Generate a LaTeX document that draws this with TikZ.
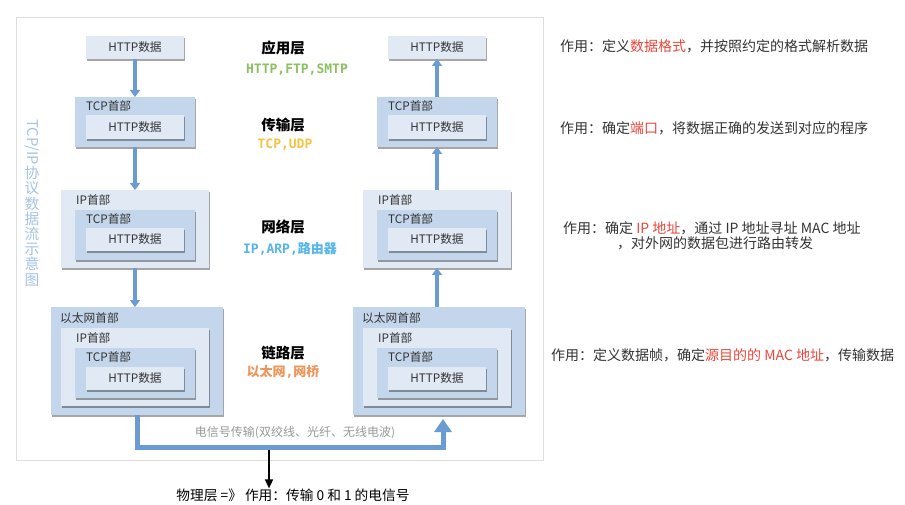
\documentclass[tikz,border=0pt]{standalone}
\usepackage{fontspec}
\setmainfont{Noto Sans CJK SC}
\newfontfamily\monof{DejaVu Sans Mono}
\usetikzlibrary{arrows.meta,shadows,calc}
\definecolor{boxdark}{HTML}{C4D6EB}
\definecolor{boxlight}{HTML}{E0E9F4}
\definecolor{txtc}{HTML}{333333}
\definecolor{arrowc}{HTML}{6A9BD3}
\definecolor{framec}{HTML}{DDDDDD}
\definecolor{vtc}{HTML}{A5C4E6}
\definecolor{pgreen}{HTML}{8CC063}
\definecolor{pyellow}{HTML}{F5C443}
\definecolor{pblue}{HTML}{55B5EC}
\definecolor{porange}{HTML}{F0955A}
\definecolor{hlred}{HTML}{E8463A}
\definecolor{desctext}{HTML}{333333}
\definecolor{graytext}{HTML}{999999}
\newcommand\hl[1]{\textcolor{hlred}{#1}}
\newcommand\mybox[7]{\node[pbox,fill=#6,minimum width={(#4)*1pt-(#2)*1pt},minimum height={(#5)*1pt-(#3)*1pt}] (#1) at ({((#2)+(#4))/2},{((#3)+(#5))/2}) {#7};}
\newcommand\hdr[4]{\node[hdrs] (#1) at (#2,#3) {#4};}
\newcommand\stackcol[2]{%
  \mybox{h1#1}{86+#2}{36}{184+#2}{59}{boxlight}{HTTP数据}
  \mybox{t2#1}{75+#2}{97}{195+#2}{147}{boxdark}{}
  \hdr{t2#1l}{86+#2}{106}{TCP首部}
  \mybox{h2#1}{86+#2}{115}{184+#2}{139}{boxlight}{HTTP数据}
  \mybox{i3#1}{61+#2}{190}{209+#2}{268}{boxlight}{}
  \hdr{i3#1l}{76+#2}{200}{IP首部}
  \mybox{t3#1}{75+#2}{210}{195+#2}{260}{boxdark}{}
  \hdr{t3#1l}{86+#2}{219}{TCP首部}
  \mybox{h3#1}{86+#2}{228}{184+#2}{251}{boxlight}{HTTP数据}
  \mybox{e4#1}{51+#2}{307}{223+#2}{415}{boxdark}{}
  \hdr{e4#1l}{60+#2}{318}{以太网首部}
  \mybox{i4#1}{61+#2}{328}{209+#2}{406}{boxlight}{}
  \hdr{i4#1l}{76+#2}{338}{IP首部}
  \mybox{t4#1}{75+#2}{348}{195+#2}{398}{boxdark}{}
  \hdr{t4#1l}{86+#2}{357}{TCP首部}
  \mybox{h4#1}{86+#2}{367}{184+#2}{390}{boxlight}{HTTP数据}
}
\begin{document}
\begin{tikzpicture}[x=1pt,y=-1pt,
  pbox/.style={inner sep=0pt,outer sep=0pt,draw=none,
    drop shadow={shadow xshift=1.2pt,shadow yshift=-1.6pt,fill=black,opacity=0.35},
    font=\fontsize{11.7}{14}\selectfont,text=txtc},
  hdrs/.style={anchor=west,inner sep=0pt,font=\fontsize{11.7}{14}\selectfont,text=txtc},
  layer/.style={inner sep=0pt,font=\fontsize{14.5}{17}\selectfont\bfseries,text=black},
  proto/.style={inner sep=0pt,font=\fontsize{13}{15}\selectfont\bfseries},
  desc/.style={anchor=west,inner sep=0pt,font=\fontsize{14}{16}\selectfont,text=desctext},
  flow/.style={draw=arrowc,line width=4pt,-{Triangle[width=10pt,length=7pt]}},
  bus/.style={draw=arrowc,line width=5pt,-{Triangle[width=17pt,length=13pt]},shorten >=4pt},
  vtext/.style={inner sep=0pt,text=vtc,font=\fontsize{14.8}{15.2}\selectfont},
  frame/.style={draw=framec,line width=1pt,inner sep=0pt,fill=white}]
\useasboundingbox (0,0) rectangle (905,505);
\node[frame,minimum width=527pt,minimum height=442pt] (fr) at (279.5,239) {};

% vertical title
\node[vtext,rotate=-90] (vt1) at (32,142) {TCP/IP};
\node[vtext,anchor=north,align=center] (vt2) at (32,166) {协\\议\\数\\据\\流\\示\\意\\图};

\stackcol{L}{0}
\stackcol{R}{302}

% arrows between layers
\draw[flow] (h1L.south) -- (t2L.north);
\draw[flow] (t2L.south) -- (i3L.north);
\draw[flow] (i3L.south) -- (i3L.south |- e4L.north);
\draw[flow] (t2R.north) -- (h1R.south);
\draw[flow] (i3R.north) -- (t2R.south);
\draw[flow] (i3R.south |- e4R.north) -- (i3R.south);

% physical transmission
\draw[bus] (e4L.south) -- ++(0,32) -| ([xshift=4pt]e4R.south);
\node[inner sep=0pt,text=graytext,font=\fontsize{12}{14}\selectfont] (wire) at (295,433) {电信号传输(双绞线、光纤、无线电波)};

% layer names
\node[layer] (l1) at (283,48) {应用层};
\node[proto,text=pgreen] (p1) at (297,70) {\monof HTTP,FTP,SMTP};
\node[layer] (l2) at (283,125) {传输层};
\node[proto,text=pyellow] (p2) at (285,145) {\monof TCP,UDP};
\node[layer] (l3) at (283,227) {网络层};
\node[proto,text=pblue] (p3) at (290,249) {{\monof IP,ARP,}路由器};
\node[layer] (l4) at (283,353) {链路层};
\node[proto,text=porange] (p4) at (283,372) {以太网{\monof ,}网桥};

% physical layer
\coordinate (pstart) at (269,450);
\node[inner sep=0pt,font=\fontsize{13.7}{15}\selectfont,text=black] (phys) at (293,495) {物理层 =》 作用：传输 0 和 1 的电信号};
\draw[line width=1.5pt,-{Triangle[width=8pt,length=9pt]}] (pstart) -- (pstart |- phys.north);

% descriptions
\node[desc] (d1) at (560,46) {作用：定义\hl{数据格式}，并按照约定的格式解析数据};
\node[desc] (d2) at (560,128) {作用：确定\hl{端口}，将数据正确的发送到对应的程序};
\node[desc] (d3) at (563,228) {作用：确定 \hl{IP 地址}，通过 IP 地址寻址 MAC 地址};
\node[desc] (d3b) at (617,243) {，对外网的数据包进行路由转发};
\node[desc] (d4) at (551,355) {作用：定义数据帧，确定\hl{源目的的 MAC 地址}，传输数据};
\end{tikzpicture}
\end{document}
